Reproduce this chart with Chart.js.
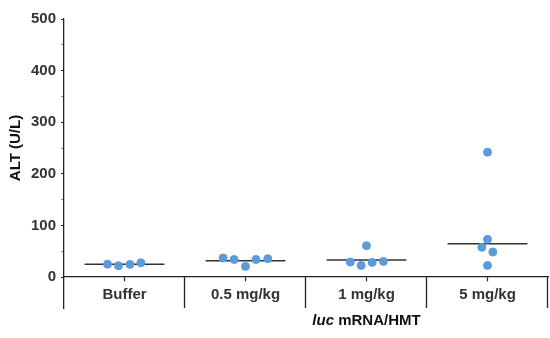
<!DOCTYPE html>
<html>
<head>
<meta charset="utf-8">
<script src="https://cdn.jsdelivr.net/npm/chart.js@4"></script>
<style>
  body { margin: 0; background: #fff; }
  #wrap { width: 550px; height: 338px; }
</style>
</head>
<body>
<div id="wrap"><canvas id="chart" width="550" height="338"></canvas></div>
<script>
// groups along the x axis
const categories = ["Buffer", "0.5 mg/kg", "1 mg/kg", "5 mg/kg"];

// ALT values (U/L) per group
const bufferVals = [25, 22, 24.5, 27.7];
const halfVals = [37, 34, 20.6, 34, 35.5];
const oneVals = [29, 22.5, 60.8, 28.4, 30.3];
const fiveVals = [242, 73, 57.5, 48.5, 22.5];

// horizontal spread of the dots inside each group (category units)
const bufferJitter = [-0.14, -0.05, 0.045, 0.135];
const halfJitter = [-0.185, -0.094, 0, 0.087, 0.184];
const oneJitter = [-0.134, -0.044, 0, 0.047, 0.14];
const fiveJitter = [0, 0, -0.047, 0.044, 0];

// summary line per group
const lineVals = [25, 31.6, 33, 64.7];

const yTicks = [0, 50, 100, 150, 200, 250, 300, 350, 400, 450, 500];

const groups = [bufferVals, halfVals, oneVals, fiveVals];
const jitters = [bufferJitter, halfJitter, oneJitter, fiveJitter];

const dots = [];
groups.forEach((vals, i) => {
  vals.forEach((v, j) => dots.push({ x: i + 0.5 + jitters[i][j], y: v }));
});

const lines = [];
lineVals.forEach((v, i) => {
  lines.push({ x: i + 0.5 - 0.33, y: v });
  lines.push({ x: i + 0.5 + 0.33, y: v });
  lines.push({ x: i + 1, y: null });
});

const FONT = { family: "'Liberation Sans', Arial, sans-serif", size: 15, weight: "bold" };
const TEXT = "#333";

const extras = {
  id: "extras",
  afterDraw(chart) {
    const { ctx, scales, chartArea } = chart;
    const x = scales.x, y = scales.y;
    const y0 = y.getPixelForValue(0);
    ctx.save();
    // group separators below the axis
    ctx.strokeStyle = "#222";
    ctx.lineWidth = 1.3;
    for (let i = 1; i <= categories.length; i++) {
      const px = Math.round(x.getPixelForValue(i)) - 0.5;
      ctx.beginPath();
      ctx.moveTo(px, y0);
      ctx.lineTo(px, chartArea.bottom);
      ctx.stroke();
    }
    // y title
    ctx.fillStyle = "#111";
    ctx.font = "bold 15px 'Liberation Sans', Arial, sans-serif";
    ctx.textAlign = "center";
    ctx.textBaseline = "middle";
    ctx.save();
    ctx.translate(16, y.getPixelForValue(250));
    ctx.rotate(-Math.PI / 2);
    ctx.fillText("ALT (U/L)", 0, 0);
    ctx.restore();
    // x title, "luc" in italics
    const part1 = "luc";
    const part2 = " mRNA/HMT";
    ctx.font = "italic bold 15px 'Liberation Sans', Arial, sans-serif";
    const w1 = ctx.measureText(part1).width;
    ctx.font = "bold 15px 'Liberation Sans', Arial, sans-serif";
    const w2 = ctx.measureText(part2).width;
    const cx = x.getPixelForValue(2.5);
    const start = cx - (w1 + w2) / 2;
    const ty = 321;
    ctx.textAlign = "left";
    ctx.font = "italic bold 15px 'Liberation Sans', Arial, sans-serif";
    ctx.fillText(part1, start, ty);
    ctx.font = "bold 15px 'Liberation Sans', Arial, sans-serif";
    ctx.fillText(part2, start + w1, ty);
    ctx.restore();
  }
};

new Chart(document.getElementById("chart"), {
  type: "scatter",
  data: {
    datasets: [
      {
        type: "line",
        data: lines,
        borderColor: "#333",
        borderWidth: 1.5,
        pointRadius: 0,
        spanGaps: false,
        order: 2
      },
      {
        data: dots,
        backgroundColor: "#5b9bdc",
        borderColor: "#5b9bdc",
        pointRadius: 4,
        order: 1
      }
    ]
  },
  options: {
    responsive: false,
    animation: false,
    layout: { autoPadding: false, padding: { top: 19, bottom: 30, left: 0, right: 2 } },
    plugins: { legend: { display: false }, tooltip: { enabled: false } },
    scales: {
      x: {
        type: "linear",
        position: { y: 0 },
        min: 0,
        max: categories.length,
        afterBuildTicks: (s) => { s.ticks = categories.map((c, i) => ({ value: i + 0.5 })); },
        afterFit: (s) => { s.height = 0; s.paddingLeft = 0; s.paddingRight = 0; },
        ticks: {
          callback: (v) => categories[Math.floor(v)],
          font: FONT,
          color: TEXT,
          padding: 5,
          maxRotation: 0,
          autoSkip: false
        },
        grid: { drawOnChartArea: false, tickLength: 4, tickColor: "#222", tickWidth: 1.2 },
        border: { color: "#222", width: 1.3 }
      },
      y: {
        min: -60,
        max: 500,
        afterBuildTicks: (s) => { s.ticks = yTicks.map((v) => ({ value: v })); },
        afterFit: (s) => { s.width = 64; },
        ticks: {
          callback: (v) => (v % 100 === 0 ? v : ""),
          font: FONT,
          color: TEXT,
          padding: 5
        },
        grid: {
          drawOnChartArea: false,
          tickLength: 3,
          tickColor: (c) => (c.tick && c.tick.value % 100 === 0 ? "#222" : "#888"),
          tickWidth: 1.2
        },
        border: { color: "#222", width: 1.3 }
      }
    }
  },
  plugins: [extras]
});
</script>
</body>
</html>
